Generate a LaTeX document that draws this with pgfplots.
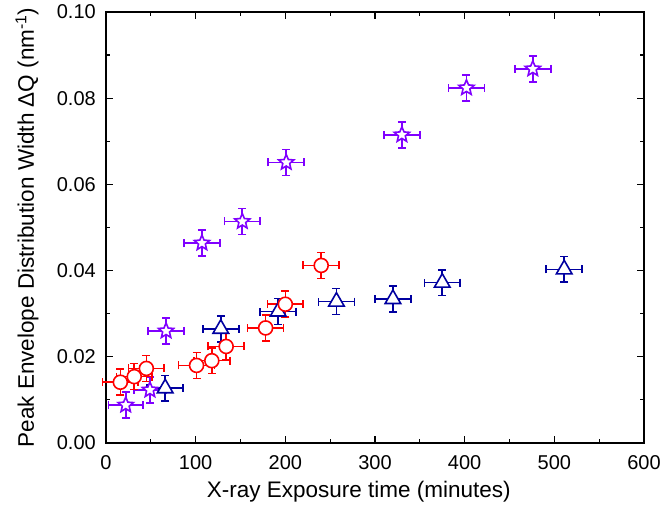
\documentclass[border=0pt]{standalone}
\usepackage{pgfplots}
\usepackage{pgfplotstable}
\pgfplotsset{compat=1.18}
\usepackage{fontspec}
\setmainfont{Liberation Sans}
\definecolor{starpurple}{RGB}{128,0,255}
\definecolor{trinavy}{RGB}{0,0,160}
\definecolor{circred}{RGB}{255,0,0}

% open five-pointed star
\pgfdeclareplotmark{ostar}{%
  \pgfpathmoveto{\pgfpointpolar{90}{\pgfplotmarksize}}%
  \pgfpathlineto{\pgfpointpolar{126}{0.45\pgfplotmarksize}}%
  \pgfpathlineto{\pgfpointpolar{162}{\pgfplotmarksize}}%
  \pgfpathlineto{\pgfpointpolar{198}{0.45\pgfplotmarksize}}%
  \pgfpathlineto{\pgfpointpolar{234}{\pgfplotmarksize}}%
  \pgfpathlineto{\pgfpointpolar{270}{0.45\pgfplotmarksize}}%
  \pgfpathlineto{\pgfpointpolar{306}{\pgfplotmarksize}}%
  \pgfpathlineto{\pgfpointpolar{342}{0.45\pgfplotmarksize}}%
  \pgfpathlineto{\pgfpointpolar{18}{\pgfplotmarksize}}%
  \pgfpathlineto{\pgfpointpolar{54}{0.45\pgfplotmarksize}}%
  \pgfpathclose
  \pgfusepathqfillstroke
}

\pgfplotstableread{
x   y       ex  ey
22  0.0088  19  0.003
49  0.0123  18  0.003
67  0.0260  20  0.003
107 0.0464  20  0.003
152 0.0514  20  0.003
201 0.0651  20  0.003
330 0.0715  20  0.003
402 0.0824  20  0.003
476 0.0868  20  0.003
}\stars

\pgfplotstableread{
x   y       ex  ey
66  0.0127  20  0.003
128 0.0265  20  0.003
192 0.0305  20  0.003
257 0.0328  20  0.003
320 0.0334  20  0.003
375 0.0372  20  0.003
511 0.0403  20  0.003
}\triangles

\pgfplotstableread{
x    y       ex  ey
16   0.0141  20  0.003
31.5 0.0154  20  0.003
45   0.0173  20  0.003
101  0.0180  20  0.003
118  0.0191  20  0.003
134  0.0224  20  0.003
178  0.0267  20  0.003
200  0.0322  20  0.003
240  0.0412  20  0.003
}\circles

\begin{document}
\begin{tikzpicture}
\useasboundingbox (-106pt,-67pt) rectangle (555pt,443pt);
\begin{axis}[
    scale only axis,
    width=538pt, height=431pt,
    xmin=0, xmax=600, ymin=0, ymax=0.1,
    xtick={0,100,...,600},
    ytick={0,0.02,0.04,0.06,0.08,0.1},
    minor tick num=1,
    tick align=inside,
    major tick length=7pt, minor tick length=4pt,
    axis line style={line width=1.2pt},
    every tick/.style={black, line width=1.2pt},
    tick label style={font=\fontsize{20}{24}\selectfont},
    label style={font=\fontsize{22.5}{27}\selectfont},
    /pgf/number format/assume math mode=true,
    scaled y ticks=false,
    yticklabel style={/pgf/number format/fixed, /pgf/number format/fixed zerofill,
        /pgf/number format/precision=2, inner sep=0pt, xshift=-10pt},
    xticklabel style={inner sep=0pt, yshift=-12pt},
    xlabel={X-ray Exposure time (minutes)},
    ylabel={Peak Envelope Distribution Width ΔQ (nm\textsuperscript{-1})},
    xlabel style={at={(axis description cs:0.47,0)}, anchor=center, yshift=-49pt},
    ylabel style={at={(axis description cs:0,0.5)}, anchor=center, yshift=79pt},
    clip=false,
    error bars/error bar style={line width=1.6pt},
    error bars/error mark options={rotate=90, mark size=4pt, line width=1.6pt},
    errs/.style={#1, only marks, mark=none, forget plot,
        error bars/.cd, x dir=both, x explicit, y dir=both, y explicit},
]
% error bars first, open marks on top
\addplot[errs=starpurple] table[x=x, y=y, x error=ex, y error=ey] {\stars};
\addplot[errs=trinavy] table[x=x, y=y, x error=ex, y error=ey] {\triangles};
\addplot[errs=circred] table[x=x, y=y, x error=ex, y error=ey] {\circles};

\addplot[starpurple, only marks, mark=ostar, mark size=8pt,
    mark options={line width=1.6pt, draw=starpurple, fill=white}] table[x=x, y=y] {\stars};
\addplot[trinavy, only marks, mark=triangle*, mark size=9pt,
    mark options={line width=1.6pt, draw=trinavy, fill=white}] table[x=x, y=y] {\triangles};
\addplot[circred, only marks, mark=*, mark size=7pt,
    mark options={line width=1.6pt, draw=circred, fill=white}] table[x=x, y=y] {\circles};
\end{axis}
\end{tikzpicture}
\end{document}
